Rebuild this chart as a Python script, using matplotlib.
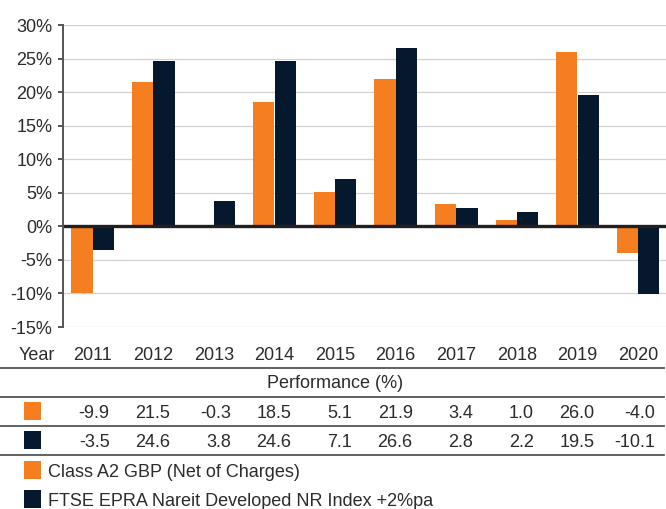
import matplotlib
matplotlib.use("Agg")
import matplotlib.pyplot as plt
from matplotlib.patches import Rectangle
from matplotlib.lines import Line2D
from matplotlib.transforms import blended_transform_factory
import numpy as np

years = ["2011", "2012", "2013", "2014", "2015", "2016", "2017", "2018", "2019", "2020"]
fund = [-9.9, 21.5, -0.3, 18.5, 5.1, 21.9, 3.4, 1.0, 26.0, -4.0]
index = [-3.5, 24.6, 3.8, 24.6, 7.1, 26.6, 2.8, 2.2, 19.5, -10.1]
series_names = ["Class A2 GBP (Net of Charges)", "FTSE EPRA Nareit Developed NR Index +2%pa"]
yticks = [-15, -10, -5, 0, 5, 10, 15, 20, 25, 30]

ORANGE = "#F47E20"
NAVY = "#06182D"
TXT = "#2b2b2b"
FONT = ["Liberation Sans Narrow", "Liberation Sans", "DejaVu Sans"]
plt.rcParams["font.family"] = FONT

W, H = 666, 509
fig = plt.figure(figsize=(W / 100, H / 100), dpi=100)

def fx(px):
    return px / W

def fy(py):
    return 1 - py / H

ax = fig.add_axes([fx(63), fy(327), fx(666) - fx(63), fy(25) - fy(327)])
x = np.arange(len(years))
bw = 0.35
off = 0.177
ax.bar(x - off, fund, width=bw, color=ORANGE, linewidth=0, zorder=2)
ax.bar(x + off, index, width=bw, color=NAVY, linewidth=0, zorder=2)

ax.set_xlim(-0.49, 9.46)
ax.set_ylim(-15, 30)
ax.set_yticks(yticks)
ax.set_yticklabels([f"{v}%" for v in yticks], fontsize=13, color=TXT)
ax.set_xticks([])
for v in yticks:
    if v == 0:
        ax.axhline(0, color="#231f20", lw=2.4, zorder=3)
    else:
        ax.axhline(v, color="#d2d2d2", lw=0.9, zorder=1)

for s in ["top", "right", "bottom"]:
    ax.spines[s].set_visible(False)
ax.spines["left"].set_color("#555555")
ax.spines["left"].set_linewidth(1.4)
ax.spines["left"].set_zorder(4)
ax.tick_params(axis="y", direction="out", length=3.5, width=1.4, color="#555555", pad=4)

tr = blended_transform_factory(ax.transData, fig.transFigure)

# Year row
fig.text(fx(37), fy(360), "Year", ha="center", va="baseline", fontsize=13, color=TXT)
for i, yr in enumerate(years):
    ax.text(x[i], fy(360), yr, transform=tr, ha="center", va="baseline",
            fontsize=13, color=TXT, clip_on=False)

# table lines
for py in [367.5, 396.7, 426, 455]:
    fig.add_artist(Line2D([0, fx(664)], [fy(py), fy(py)], transform=fig.transFigure,
                          color="#555555", lw=1.3))

fig.text(fx(335), fy(388), "Performance (%)", ha="center", va="baseline", fontsize=13, color=TXT)

for row, (vals, col, base, cy) in enumerate([(fund, ORANGE, 418.3, 411), (index, NAVY, 447.3, 440)]):
    fig.add_artist(Rectangle((fx(24), fy(cy + 9)), fx(17), fy(0) - fy(18),
                             transform=fig.transFigure, color=col, lw=0))
    for i, v in enumerate(vals):
        ax.text(x[i] + 0.28, fy(base), f"{v:.1f}", transform=tr, ha="right", va="baseline",
                fontsize=13, color=TXT, clip_on=False)

# legend
for name, col, base, cy in [(series_names[0], ORANGE, 477.3, 470), (series_names[1], NAVY, 505.7, 499)]:
    fig.add_artist(Rectangle((fx(24), fy(cy + 9)), fx(17), fy(0) - fy(18),
                             transform=fig.transFigure, color=col, lw=0))
    fig.text(fx(48), fy(base), name, ha="left", va="baseline", fontsize=13, color=TXT)

fig.savefig("out.png", dpi=100)
